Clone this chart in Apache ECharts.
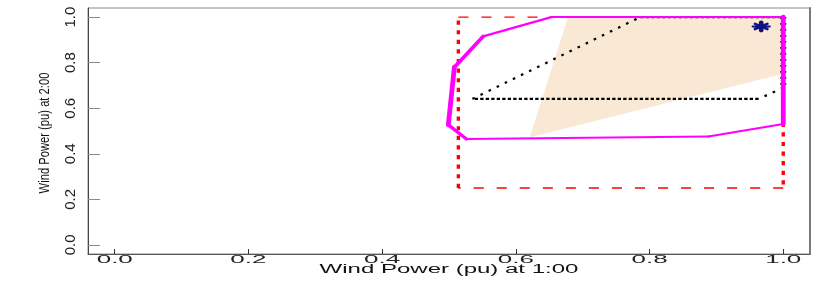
<!DOCTYPE html>
<html><head><meta charset="utf-8">
<script src="https://cdn.jsdelivr.net/npm/echarts@6/dist/echarts.min.js"></script>
<style>html,body{margin:0;padding:0;background:#fff}#c{width:830px;height:289px}</style>
</head><body><div id="c"></div>
<script>
// ---- data ----
const xTicks = [0, 0.2, 0.4, 0.6, 0.8, 1.0];
const xTickLabels = ['0.0', '0.2', '0.4', '0.6', '0.8', '1.0'];
const yTicks = [0, 0.2, 0.4, 0.6, 0.8, 1.0];
const yTickLabels = ['0.0', '0.2', '0.4', '0.6', '0.8', '1.0'];
const xTitle = 'Wind Power (pu) at 1:00';
const yTitle = 'Wind Power (pu) at 2:00';
// shaded (beige) region
const regionX = [0.678, 0.621, 1.0, 1.0];
const regionY = [1.0, 0.473, 0.751, 1.0];
// red dashed box
const boxX = [0.514, 0.514, 1.0, 1.0, 0.514];
const boxY = [0.25, 1.0, 1.0, 0.25, 0.25];
// magenta hull
const hullX = [0.653, 0.551, 0.508, 0.499, 0.526, 0.888, 1.0, 1.0, 0.653];
const hullY = [1.0, 0.915, 0.780, 0.527, 0.465, 0.476, 0.531, 1.0, 1.0];
// black dotted polygon
const innerX = [0.535, 0.786, 1.0, 1.0, 0.963, 0.535];
const innerY = [0.641, 1.0, 1.0, 0.690, 0.641, 0.641];
// star point
const pointX = [0.967];
const pointY = [0.959];

// ---- helpers ----
const K = 2.4; // horizontal stretch of the original rendering
function segs(xs, ys) {
  const out = [];
  for (let i = 0; i < xs.length - 1; i++) out.push([xs[i], ys[i], xs[i + 1], ys[i + 1]]);
  return out;
}
function stretchedLine(p1, p2, w, color, dash, cap) {
  const dx = p2[0] - p1[0], dy = p2[1] - p1[1];
  const L = Math.hypot(dx, dy) || 1, L0 = Math.hypot(dx / K, dy) || 1;
  return {
    type: 'line',
    shape: { x1: p1[0], y1: p1[1], x2: p2[0], y2: p2[1] },
    style: {
      stroke: color, lineWidth: w * K * L0 / L,
      lineDash: dash ? dash.map(d => d * L / L0) : null,
      lineCap: cap || 'butt'
    }
  };
}
function segSeries(data, z, fn) {
  return {
    type: 'custom', coordinateSystem: 'cartesian2d', clip: false, silent: true, z: z,
    encode: { x: [0, 2], y: [1, 3] },
    data: data,
    renderItem: function (params, api) {
      const p1 = api.coord([api.value(0), api.value(1)]);
      const p2 = api.coord([api.value(2), api.value(3)]);
      return fn(p1, p2);
    }
  };
}

const chart = echarts.init(document.getElementById('c'), null, { renderer: 'canvas' });
const FONT = 'Liberation Sans';
const NARROW = "'Liberation Sans Narrow', 'Liberation Sans', sans-serif";

const option = {
  animation: false,
  backgroundColor: '#ffffff',
  grid: { left: 88, right: 20, top: 8, bottom: 35, show: true, borderColor: '#8a8a8a', borderWidth: 1, backgroundColor: '#ffffff' },
  xAxis: {
    type: 'value', min: -0.04, max: 1.04,
    axisLine: { show: true, onZero: false, lineStyle: { color: '#555', width: 1 } },
    axisTick: { show: true, inside: true, length: 5, customValues: xTicks, lineStyle: { color: '#333', width: 1 } },
    axisLabel: { show: false },
    splitLine: { show: false }
  },
  yAxis: [{
    type: 'value', min: -0.04, max: 1.04,
    axisLine: { show: true, onZero: false, lineStyle: { color: '#444', width: 1 } },
    axisTick: { show: true, inside: true, length: 12, customValues: yTicks, lineStyle: { color: '#8a8a8a', width: 1 } },
    axisLabel: {
      show: true, customValues: yTicks, rotate: 90, margin: 10,
      formatter: function (v) { const i = yTicks.indexOf(v); return i >= 0 ? yTickLabels[i] : ''; },
      fontSize: 15, fontFamily: NARROW, color: '#222'
    },
    splitLine: { show: false }
  }, {
    type: 'value', min: -0.04, max: 1.04, position: 'right',
    axisLine: { show: true, onZero: false, lineStyle: { color: '#7a7a7a', width: 2 } },
    axisTick: { show: false }, axisLabel: { show: false }, splitLine: { show: false }
  }],
  graphic: [
    { type: 'text', x: 449, y: 269.5, scaleX: 2.0, silent: true,
      style: { text: xTitle, fontSize: 12, fontFamily: FONT, fill: '#111', align: 'center', verticalAlign: 'middle' } },
    { type: 'text', x: 45, y: 133, rotation: Math.PI / 2, scaleX: 0.8, silent: true,
      style: { text: yTitle, fontSize: 14, fontFamily: FONT, fill: '#111', align: 'center', verticalAlign: 'middle' } }
  ],
  series: [
    // beige region
    {
      type: 'custom', coordinateSystem: 'cartesian2d', clip: false, silent: true, z: 1,
      data: regionX.map((x, i) => [x, regionY[i]]),
      renderItem: function (params, api) {
        if (params.dataIndex !== 0) return null;
        const pts = regionX.map((x, i) => api.coord([x, regionY[i]]));
        return { type: 'polygon', shape: { points: pts }, style: { fill: '#f9e8d4', stroke: null } };
      }
    },
    // red box
    segSeries(segs(boxX, boxY), 2, (p1, p2) => stretchedLine(p1, p2, 1.4, '#ff0000', [4.2, 5.4], 'butt')),
    // black dotted polygon (under the hull)
    segSeries(segs(innerX, innerY), 3, (p1, p2) => {
      const dx = Math.abs(p2[0] - p1[0]), dy = Math.abs(p2[1] - p1[1]);
      const horiz = dy < 0.5, vert = dx < 0.5;
      return {
        type: 'line', shape: { x1: p1[0], y1: p1[1], x2: p2[0], y2: p2[1] },
        style: {
          stroke: '#000', lineWidth: horiz ? 2.4 : (vert ? 6 : 2.2),
          lineDash: horiz ? [3.3, 2.2] : (vert ? [1.6, 4.4] : [2.6, 6.4]), lineCap: 'butt'
        }
      };
    }),
    // magenta hull
    segSeries(segs(hullX, hullY), 4, (p1, p2) => stretchedLine(p1, p2, 2.0, '#ff00ff', null, 'round')),
    // star point
    {
      type: 'custom', coordinateSystem: 'cartesian2d', clip: false, silent: true, z: 5,
      data: pointX.map((x, i) => [x, pointY[i]]),
      renderItem: function (params, api) {
        const c = api.coord([api.value(0), api.value(1)]);
        const r = 3.6, d = r * 0.72;
        const arms = [[r * K, 0], [0, r], [d * K, d], [d * K, -d]];
        return {
          type: 'group',
          children: arms.map(a => stretchedLine([c[0] - a[0], c[1] - a[1]], [c[0] + a[0], c[1] + a[1]], 2.0, '#101080', null, 'round'))
        };
      }
    },
    // x tick labels
    {
      type: 'custom', coordinateSystem: 'cartesian2d', clip: false, silent: true, z: 6,
      data: xTicks.map(v => [v, 0]),
      renderItem: function (params, api) {
        const p = api.coord([api.value(0), api.value(1)]);
        const yb = params.coordSys.y + params.coordSys.height;
        return {
          type: 'text', x: p[0], y: yb + 6.5, scaleX: 2.6,
          style: { text: xTickLabels[params.dataIndex], fontSize: 10, fontFamily: FONT, fill: '#222', align: 'center', verticalAlign: 'middle' }
        };
      }
    }
  ]
};
chart.setOption(option);
</script>
</body></html>
